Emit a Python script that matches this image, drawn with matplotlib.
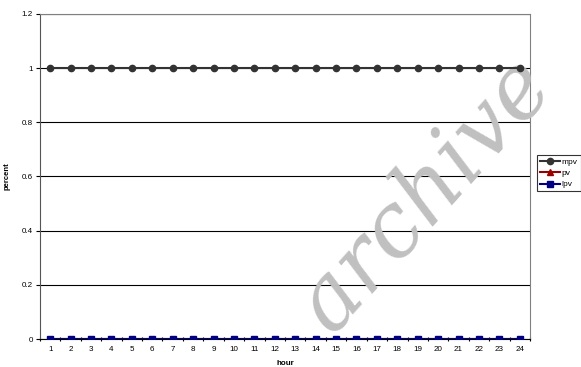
import matplotlib.pyplot as plt
import numpy as np

plt.rcParams['font.family'] = ['Liberation Sans', 'DejaVu Sans']

hours = list(range(1, 25))
mpv = [1, 1, 1, 1, 1, 1, 1, 1, 1, 1, 1, 1, 1, 1, 1, 1, 1, 1, 1, 1, 1, 1, 1, 1]
pv = [0, 0, 0, 0, 0, 0, 0, 0, 0, 0, 0, 0, 0, 0, 0, 0, 0, 0, 0, 0, 0, 0, 0, 0]
lpv = [0, 0, 0, 0, 0, 0, 0, 0, 0, 0, 0, 0, 0, 0, 0, 0, 0, 0, 0, 0, 0, 0, 0, 0]
yticks = [0, 0.2, 0.4, 0.6, 0.8, 1, 1.2]
ylabels = ["0", "0.2", "0.4", "0.6", "0.8", "1", "1.2"]

fig = plt.figure(figsize=(5.81, 3.67), dpi=100)
ax = fig.add_axes([40 / 581, 28 / 367, 490 / 581, 325 / 367])

ax.plot(hours, mpv, color="#333333", marker="o", markersize=4.5, linewidth=1.5, label="mpv", zorder=5)
ax.plot(hours, pv, color="#990000", marker="^", markersize=4.5, linewidth=1.5, label="pv", zorder=5)
ax.plot(hours, lpv, color="#000080", marker="s", markersize=4.5, linewidth=1.5, label="lpv", zorder=6)

ax.set_xlim(0.5, 24.5)
ax.set_ylim(0, 1.2)
ax.set_yticks(yticks)
ax.set_yticklabels(ylabels, fontsize=5.8)
ax.set_xticks(hours)
ax.set_xticklabels([str(h) for h in hours], fontsize=5.8)
ax.tick_params(axis="x", length=0, pad=5)
ax.set_xticks(np.arange(0.5, 25, 1), minor=True)
ax.tick_params(axis="x", which="minor", length=3, direction="inout", width=0.8)
ax.tick_params(axis="y", length=3, width=0.8, pad=2)

ax.grid(axis="y", color="black", linewidth=0.8)
ax.set_axisbelow(True)
for side in ["top", "right"]:
    ax.spines[side].set_color("#808080")
ax.spines["left"].set_color("#555555")
ax.spines["bottom"].set_color("black")

ax.set_ylabel("percent", fontsize=5.5, fontweight="bold", labelpad=8)
ax.set_xlabel("hour", fontsize=5.8, fontweight="bold", labelpad=5)

leg = ax.legend(loc="upper left", bbox_to_anchor=(497 / 490, 0.565), fontsize=6,
                frameon=True, fancybox=False, edgecolor="black", handlelength=2.4,
                handletextpad=0.2, borderpad=0.35, labelspacing=0.4, borderaxespad=0)
leg.get_frame().set_linewidth(0.8)
leg.set_zorder(10)

# grey stamp across the plot
ax.text(425 / 581, 1 - 195 / 367, "archive", transform=fig.transFigure, fontsize=64,
        family="DejaVu Serif", style="italic", color="#c0c0c0", rotation=48,
        ha="center", va="center", zorder=3, clip_on=False)

fig.savefig("out.png", dpi=100)
